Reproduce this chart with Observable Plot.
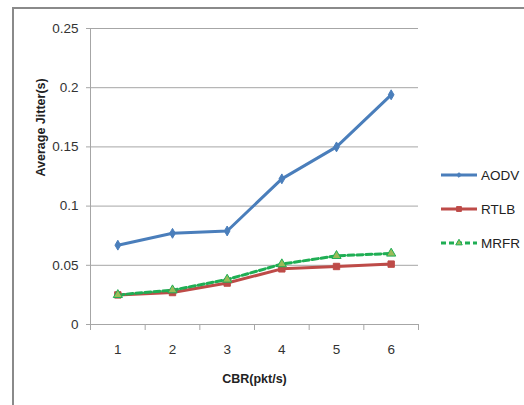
<!DOCTYPE html>
<html>
<head>
<meta charset="utf-8">
<script src="https://cdn.jsdelivr.net/npm/d3@7"></script>
<script src="https://cdn.jsdelivr.net/npm/@observablehq/plot@0.6"></script>
<style>
  html, body { margin: 0; padding: 0; background: #fff; }
  body { width: 524px; height: 405px; overflow: hidden; position: relative; font-family: "Liberation Sans", Arial, sans-serif; }
  #frame { position: absolute; left: 12px; top: 7px; width: 600px; height: 500px; border: 2px solid #8a8a8a; box-sizing: border-box; }
  #chart { position: absolute; left: 0; top: 0; }
  #legend { position: absolute; left: 440px; top: 158px; font-size: 13.5px; color: #222; }
  .item { display: flex; align-items: center; height: 34px; }
  .item svg { display: block; margin-right: 3px; }
</style>
</head>
<body>
<div id="frame"></div>
<div id="chart"></div>
<div id="legend"></div>
<script>
// CBR rates (packets per second)
const cbr = [1, 2, 3, 4, 5, 6];

// Average jitter (s) per protocol
const aodv = [0.067, 0.077, 0.079, 0.123, 0.150, 0.194];
const rtlb = [0.025, 0.027, 0.035, 0.047, 0.049, 0.051];
const mrfr = [0.025, 0.029, 0.038, 0.051, 0.058, 0.060];

const yTicks = [0, 0.05, 0.1, 0.15, 0.2, 0.25];

const series = [
  {name: "AODV", values: aodv, color: "#4a7ebb", symbol: "diamond", r: 3, dash: null, fill: "#4a7ebb"},
  {name: "RTLB", values: rtlb, color: "#be4b48", symbol: "square", r: 3.6, dash: null, fill: "#be4b48"},
  {name: "MRFR", values: mrfr, color: "#1fae54", symbol: "triangle", r: 3.4, dash: "6,3", fill: "#9bbb59"}
];

const rows = series.flatMap(s => cbr.map((c, i) => ({series: s.name, cbr: c, jitter: s.values[i]})));
// band edges between categories, where the x-axis tick marks sit
const edges = [cbr[0] - 0.5, ...cbr.map(c => c + 0.5)];
const fmt = d => String(+d.toFixed(2));

const marks = [
  Plot.ruleY(yTicks, {stroke: "#a6a6a6", strokeWidth: 1}),
  Plot.ruleX([edges[0]], {stroke: "#a6a6a6", strokeWidth: 1}),
  Plot.axisX({ticks: edges, tickFormat: () => "", tickSize: 6, stroke: "#a6a6a6"}),
  Plot.axisY({ticks: yTicks, tickFormat: fmt, tickSize: 4, tickPadding: 8, stroke: "#a6a6a6", fontSize: 13.5, color: "#333"}),
  Plot.axisX({ticks: cbr, tickFormat: d => String(d), tickSize: 0, tickPadding: 20, fontSize: 13.5, color: "#333"}),
  Plot.text(["CBR(pkt/s)"], {frameAnchor: "bottom", dy: 54, lineAnchor: "middle", fontWeight: "bold", fontSize: 12.5, fill: "#222"}),
  Plot.text(["Average Jitter(s)"], {frameAnchor: "left", dx: -50, rotate: -90, lineAnchor: "middle", fontWeight: "bold", fontSize: 12.5, fill: "#222"})
];

for (const s of series) {
  const data = rows.filter(d => d.series === s.name);
  marks.push(Plot.line(data, {x: "cbr", y: "jitter", stroke: s.color, strokeWidth: 3, strokeDasharray: s.dash}));
}
for (const s of series) {
  const data = rows.filter(d => d.series === s.name);
  marks.push(Plot.dot(data, {x: "cbr", y: "jitter", symbol: s.symbol, r: s.r, fill: s.fill, stroke: s.color, strokeWidth: 1}));
}

const chart = Plot.plot({
  width: 524,
  height: 405,
  marginLeft: 90,
  marginRight: 106,
  marginTop: 28,
  marginBottom: 81,
  style: {background: "transparent", fontFamily: "Liberation Sans, Arial, sans-serif"},
  x: {type: "linear", domain: [edges[0], edges[edges.length - 1]], label: null},
  y: {type: "linear", domain: [0, 0.25], label: null},
  marks
});
document.getElementById("chart").appendChild(chart);

// legend
const legend = document.getElementById("legend");
for (const s of series) {
  const item = document.createElement("div");
  item.className = "item";
  const sw = d3.create("svg").attr("width", 38).attr("height", 12);
  sw.append("line").attr("x1", 1).attr("x2", 37).attr("y1", 6).attr("y2", 6)
    .attr("stroke", s.color).attr("stroke-width", 3).attr("stroke-dasharray", s.dash ? "5,3" : null);
  sw.append("path").attr("transform", "translate(19,6)")
    .attr("d", d3.symbol(s.symbol === "diamond" ? d3.symbolDiamond2 : s.symbol === "square" ? d3.symbolSquare2 : d3.symbolTriangle2, s.symbol === "diamond" ? 14 : 30)())
    .attr("fill", s.fill).attr("stroke", s.color);
  item.appendChild(sw.node());
  const label = document.createElement("span");
  label.textContent = s.name;
  item.appendChild(label);
  legend.appendChild(item);
}
</script>
</body>
</html>
